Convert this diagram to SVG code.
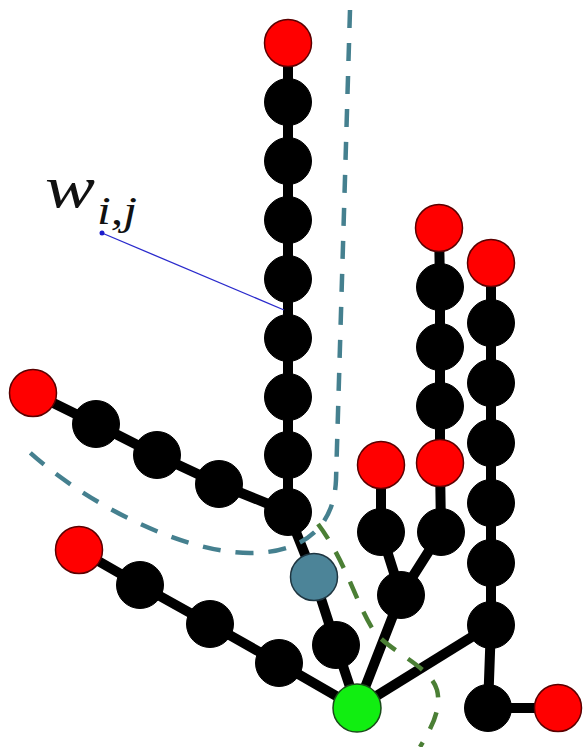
<svg xmlns="http://www.w3.org/2000/svg" width="583" height="747" viewBox="0 0 583 747">
<style>
.e{fill:none;stroke:#000;stroke-width:10;stroke-linejoin:round}
.b{fill:#000;stroke:#000;stroke-width:1}
.r{fill:#ff0000;stroke:#5a0000;stroke-width:1.5}
.g{fill:#11ee11;stroke:#1a4a1a;stroke-width:1.5}
.t{fill:#4c8498;stroke:#1e3540;stroke-width:1.5}
.dt{fill:none;stroke:#45808f;stroke-width:4.5;stroke-dasharray:18 15}
.dg{fill:none;stroke:#4b7f35;stroke-width:4.5;stroke-dasharray:18 15}
.lbl{font-family:"Liberation Serif",serif;font-style:italic;font-weight:normal;fill:#111}
</style>
<rect width="583" height="747" fill="#fff"/>
<g id="connectors">
<polyline class="e" points="288,43 288,512"/>
<polyline class="e" points="288,512 219,484 157,455 96,424 33,393"/>
<polyline class="e" points="288,512 314,577 336,645 357,708"/>
<polyline class="e" points="357,708 279,663 210,624 140,585 79,550"/>
<polyline class="e" points="357,708 401,595 381,532 381,465"/>
<polyline class="e" points="401,595 441,532 440,463 440,406 440,347 440,287 439,228"/>
<polyline class="e" points="357,708 491,625"/>
<polyline class="e" points="491,263 491,625 488,708 558,708"/>
</g>
<g id="main-chain">
<circle id="n-main-red" class="r" cx="288" cy="43" r="23.5"/>
<circle id="n-m1" class="b" cx="288" cy="102" r="23.5"/>
<circle id="n-m2" class="b" cx="288" cy="161" r="23.5"/>
<circle id="n-m3" class="b" cx="288" cy="220" r="23.5"/>
<circle id="n-m4" class="b" cx="288" cy="279" r="23.5"/>
<circle id="n-m5" class="b" cx="288" cy="338" r="23.5"/>
<circle id="n-m6" class="b" cx="288" cy="397" r="23.5"/>
<circle id="n-m7" class="b" cx="288" cy="455" r="23.5"/>
<circle id="n-m8" class="b" cx="288" cy="512" r="23.5"/>
</g>
<g id="left-branch">
<circle id="n-l-red" class="r" cx="33" cy="393" r="23.5"/>
<circle id="n-l1" class="b" cx="96" cy="424" r="23.5"/>
<circle id="n-l2" class="b" cx="157" cy="455" r="23.5"/>
<circle id="n-l3" class="b" cx="219" cy="484" r="23.5"/>
</g>
<g id="teal-node"><circle class="t" cx="314" cy="577" r="23.5"/></g>
<g id="n-c1"><circle class="b" cx="336" cy="645" r="23.5"/></g>
<g id="lower-left-branch">
<circle id="n-ll-red" class="r" cx="79" cy="550" r="23.5"/>
<circle id="n-ll1" class="b" cx="140" cy="585" r="23.5"/>
<circle id="n-ll2" class="b" cx="210" cy="624" r="23.5"/>
<circle id="n-ll3" class="b" cx="279" cy="663" r="23.5"/>
</g>
<g id="middle-branch">
<circle id="n-mid" class="b" cx="401" cy="595" r="23.5"/>
<circle id="n-mid-l" class="b" cx="381" cy="532" r="23.5"/>
<circle id="n-mid-l-red" class="r" cx="381" cy="465" r="23.5"/>
<circle id="n-mid-r" class="b" cx="441" cy="532" r="23.5"/>
<circle id="n-mid-r-red" class="r" cx="440" cy="463" r="23.5"/>
<circle id="n-mid-r1" class="b" cx="440" cy="406" r="23.5"/>
<circle id="n-mid-r2" class="b" cx="440" cy="347" r="23.5"/>
<circle id="n-mid-r3" class="b" cx="440" cy="287" r="23.5"/>
<circle id="n-mid-top-red" class="r" cx="439" cy="228" r="23.5"/>
</g>
<g id="right-branch">
<circle id="n-r-red" class="r" cx="491" cy="263" r="23.5"/>
<circle id="n-r1" class="b" cx="491" cy="323" r="23.5"/>
<circle id="n-r2" class="b" cx="491" cy="383" r="23.5"/>
<circle id="n-r3" class="b" cx="491" cy="443" r="23.5"/>
<circle id="n-r4" class="b" cx="491" cy="503" r="23.5"/>
<circle id="n-r5" class="b" cx="491" cy="563" r="23.5"/>
<circle id="n-r6" class="b" cx="491" cy="625" r="23.5"/>
<circle id="n-r7" class="b" cx="488" cy="708" r="23.5"/>
<circle id="n-r-end-red" class="r" cx="558" cy="708" r="23.5"/>
</g>
<g id="green-root"><circle class="g" cx="357" cy="708" r="24"/></g>
<g id="cuts">
<path class="dt" d="M350,10 L336,480 C334,530 300,553 250,553 C180,553 80,500 25,448"/>
<path class="dg" d="M318,524 C345,560 355,600 372,628 C385,650 430,665 437,690 C442,710 430,730 420,747"/>
</g>
<g id="label">
<line x1="102" y1="233" x2="284" y2="310" stroke="#2a2acc" stroke-width="1.3"/>
<circle cx="102" cy="233" r="2.5" fill="#1a1acc"/>
<text class="lbl" x="45" y="207" font-size="60" textLength="50" lengthAdjust="spacingAndGlyphs">w</text>
<text class="lbl" x="97" y="224" font-size="40" textLength="40" lengthAdjust="spacingAndGlyphs">i,j</text>
</g>
</svg>
